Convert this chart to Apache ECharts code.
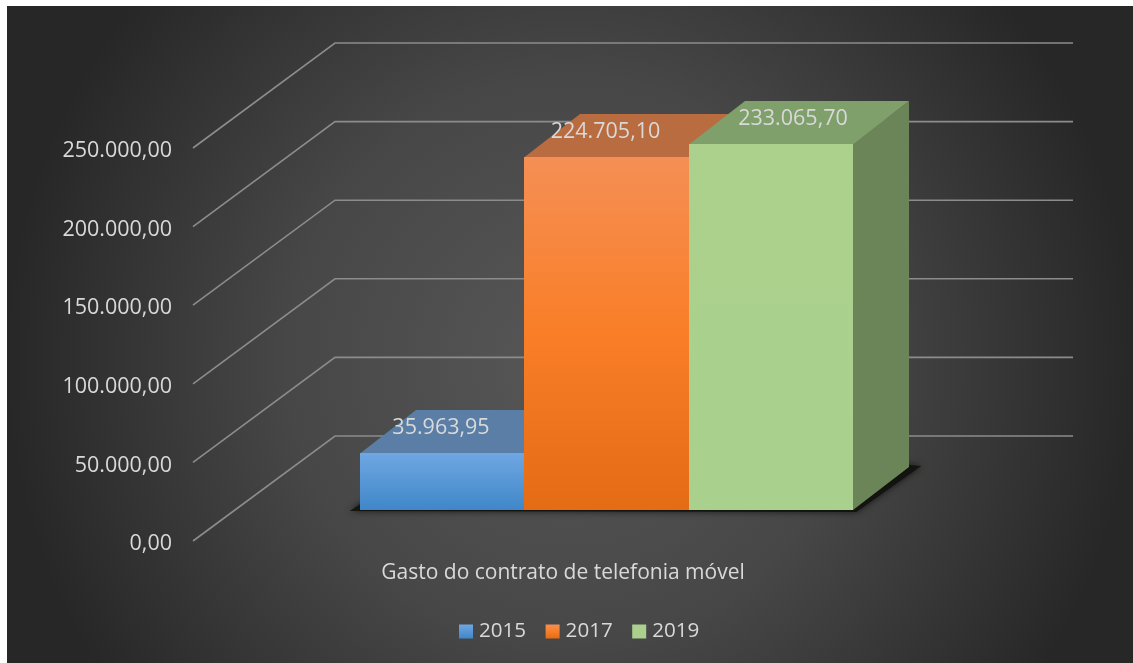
<!DOCTYPE html>
<html><head><meta charset="utf-8">
<style>html,body{margin:0;padding:0;background:#fff;overflow:hidden}
#chart{position:absolute;left:7px;top:6px;width:1126px;height:657px}</style>
<script src="https://cdn.jsdelivr.net/npm/echarts@6/dist/echarts.min.js"></script>
</head><body><div id="chart"></div>
<script>
const categories = ['Gasto do contrato de telefonia móvel'];
const years = ['2015', '2017', '2019'];
const values2015 = [35963.95];
const values2017 = [224705.10];
const values2019 = [233065.70];
const axisTicks = [0, 50000, 100000, 150000, 200000, 250000];

const FONT = '"Open Sans", "Noto Sans", sans-serif';
const TEXT = '#d9d9d9';
const lin = (stops) => new echarts.graphic.LinearGradient(0, 0, 0, 1, stops.map((c) => ({offset: c[0], color: c[1]})));
const palette = [
  {front: [[0,'#6fa7e2'],[1,'#4087c8']], top: '#5a7ea6', side: '#4a6a8c', labelDx: -1},
  {front: [[0,'#f58f55'],[0.5,'#f97e27'],[1,'#e46c14']], top: '#b96c40', side: '#a85a28', labelDx: -1},
  {front: [[0,'#abd18d'],[1,'#a9d08c']], top: '#7f9f6b', side: '#6b8559', labelDx: 22}
];
const fmt = v => {
  const [i, d] = v.toFixed(2).split('.');
  return i.replace(/\B(?=(\d{3})+$)/g, '.') + ',' + d;
};
// oblique projection of the 3-D box
const WALL = [142, -105];    // floor edge to back wall
const FRONT = [43.5, -31];   // floor edge to front face of the bars
const DEPTH = [56, -43];     // thickness of a bar
const BAR_SHARE = 0.2223;    // bar width as a share of the category band

function barRender(idx) {
  return function (params, api) {
    const c = api.coord([api.value(0), api.value(1)]);
    const base = api.coord([api.value(0), 0]);
    const w = api.size([1, 0])[0] * BAR_SHARE;
    const x0 = Math.round(c[0] + (idx - 1.5) * w + FRONT[0]), x1 = Math.round(c[0] + (idx - 0.5) * w + FRONT[0]);
    const yt = Math.round(c[1] + FRONT[1]), yb = Math.round(base[1] + FRONT[1]);
    const p = palette[idx];
    return {type: 'group', silent: true, children: [
      {type: 'polygon', shape: {points: [[x1, yt], [x1 + DEPTH[0], yt + DEPTH[1]], [x1 + DEPTH[0], yb + DEPTH[1]], [x1, yb]]}, style: {fill: p.side}},
      {type: 'polygon', shape: {points: [[x0, yt + 0.5], [x1, yt + 0.5], [x1 + DEPTH[0], yt + DEPTH[1]], [x0 + DEPTH[0], yt + DEPTH[1]]]}, style: {fill: p.top}},
      {type: 'rect', shape: {x: x0, y: yt, width: x1 - x0, height: yb - yt}, style: {fill: lin(p.front)}},
      {type: 'text', style: {text: fmt(api.value(1)), x: (x0 + x1) / 2 + p.labelDx, y: yt - 25, align: 'center', verticalAlign: 'middle', fill: TEXT, font: '21.5px ' + FONT}}
    ]};
  };
}
function wallRender(params, api) {
  const c = api.coord([0, api.value(1)]);
  const g = params.coordSys;
  const x = g.x, y = c[1];
  return {type: 'polyline', silent: true,
    shape: {points: [[x, y], [x + WALL[0], y + WALL[1]], [x + WALL[0] + g.width - 2, y + WALL[1]]]},
    style: {fill: 'none', stroke: '#8c8c8c', lineWidth: 1.6}};
}
function shadowRender(params, api) {
  const base = api.coord([0, 0]);
  const w = api.size([1, 0])[0] * BAR_SHARE;
  const x0 = base[0] - 1.5 * w + FRONT[0], x1 = x0 + 3 * w, y = base[1] + FRONT[1];
  return {type: 'polygon', silent: true,
    shape: {points: [[x0 - 10, y + 1], [x1 + 3, y + 2], [x1 + DEPTH[0] + 12, y + DEPTH[1] - 1], [x1 + DEPTH[0], y + DEPTH[1] - 2], [x0 + DEPTH[0], y + DEPTH[1]]]},
    style: {fill: 'rgba(18,18,14,0.9)', shadowBlur: 7, shadowColor: 'rgba(0,0,0,0.75)'}};
}
const barSeries = [values2015, values2017, values2019].map((vals, i) => ({
  name: years[i], type: 'custom', renderItem: barRender(i), z: 5 + i,
  itemStyle: {color: lin(palette[i].front)},
  data: vals.map((v, k) => [k, v])
}));
const chart = echarts.init(document.getElementById('chart'), null, {renderer: 'canvas'});
chart.setOption({
  animation: false,
  backgroundColor: new echarts.graphic.RadialGradient(0.5, 0.54, 0.86, [
    {offset: 0, color: '#575757'}, {offset: 0.5, color: '#474747'}, {offset: 1, color: '#272727'}]),
  textStyle: {fontFamily: FONT},
  grid: {left: 186, top: 142, width: 740, height: 393},
  legend: {
    data: years, left: 447, top: 610, itemWidth: 14, itemHeight: 14, itemGap: 19.5,
    icon: 'rect', textStyle: {color: TEXT, fontSize: 20.6, fontFamily: FONT, padding: [0, 0, 0, 1]}
  },
  xAxis: {type: 'category', data: categories, axisLine: {show: false}, axisTick: {show: false},
    axisLabel: {color: TEXT, fontSize: 21, margin: 22, fontFamily: FONT}},
  yAxis: {type: 'value', min: 0, max: 250000, interval: 50000,
    axisLine: {show: false}, axisTick: {show: false}, splitLine: {show: false},
    axisLabel: {color: TEXT, fontSize: 21.5, margin: 21, fontFamily: FONT, verticalAlign: 'top', lineHeight: 6, formatter: fmt}},
  series: [
    {type: 'custom', name: 'paredes', renderItem: wallRender, z: 1, data: axisTicks.map(v => [0, v])},
    {type: 'custom', name: 'sombra', renderItem: shadowRender, z: 2, data: [[0, 0]]},
    ...barSeries
  ]
});
</script></body></html>
